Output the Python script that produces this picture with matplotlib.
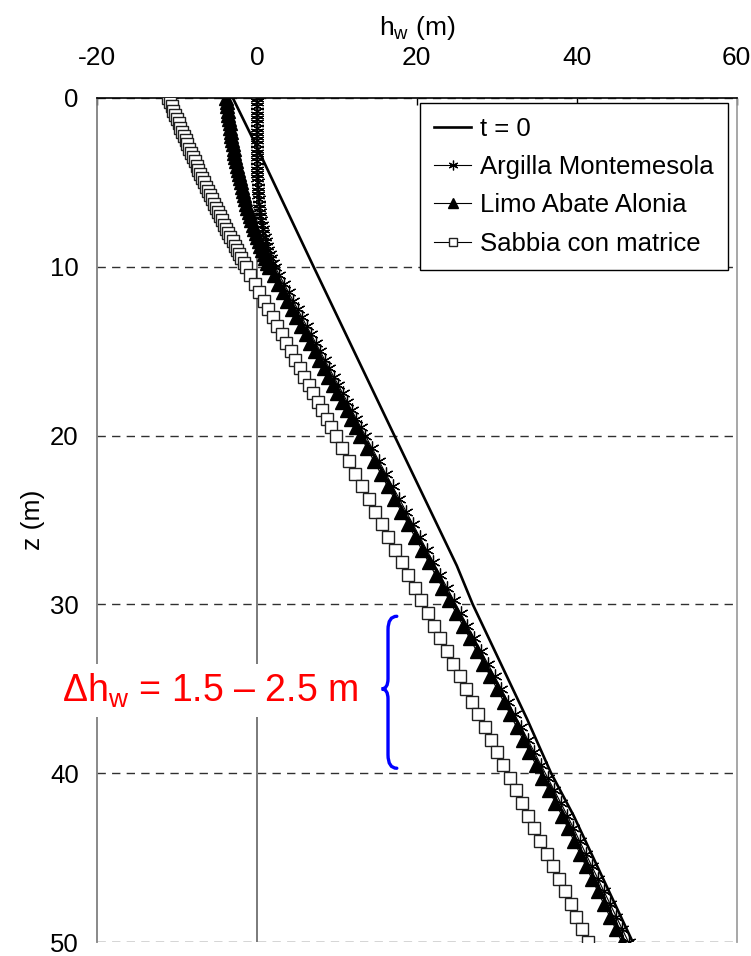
import matplotlib
matplotlib.use("Agg")
import matplotlib.pyplot as plt
from matplotlib.path import Path
from matplotlib.patches import PathPatch

plt.rcParams['font.family'] = ['Liberation Sans', 'DejaVu Sans']
plt.rcParams['mathtext.fontset'] = 'custom'
plt.rcParams['mathtext.rm'] = 'Liberation Sans'
plt.rcParams['mathtext.it'] = 'Liberation Sans:italic'
plt.rcParams['axes.unicode_minus'] = False

# profondita' dei nodi (m)
z_nodes = [0, 0.25, 0.5, 0.75, 1, 1.25, 1.5, 1.75, 2, 2.25, 2.5, 2.75, 3, 3.25,
           3.5, 3.75, 4, 4.25, 4.5, 4.75, 5, 5.25, 5.5, 5.75, 6, 6.25, 6.5, 6.75,
           7, 7.25, 7.5, 7.75, 8, 8.25, 8.5, 8.75, 9, 9.25, 9.5, 9.75, 10,
           10.5, 11, 11.5, 12, 12.5, 13, 13.5, 14, 14.5, 15, 15.5, 16, 16.5, 17,
           17.5, 18, 18.5, 19, 19.5, 20,
           20.75, 21.5, 22.25, 23, 23.75, 24.5, 25.25, 26, 26.75, 27.5, 28.25, 29,
           29.75, 30.5, 31.25, 32, 32.75, 33.5, 34.25, 35, 35.75, 36.5, 37.25, 38,
           38.75, 39.5, 40.25, 41, 41.75, 42.5, 43.25, 44, 44.75, 45.5, 46.25, 47,
           47.75, 48.5, 49.25, 50]

argilla_hw = [0, 0, 0, 0, 0, 0, 0, 0, 0, 0, 0, 0, 0, 0,
              0.01, 0.02, 0.03, 0.04, 0.05, 0.07, 0.09, 0.11, 0.14, 0.18, 0.22, 0.27,
              0.32, 0.38, 0.45, 0.53, 0.62, 0.72, 0.83, 0.96, 1.1, 1.26, 1.43, 1.62,
              1.82, 2.04, 2.27,
              2.83, 3.4, 3.96, 4.53, 5.09, 5.66, 6.22, 6.79, 7.35, 7.92, 8.48, 9.05,
              9.61, 10.18, 10.74, 11.31, 11.87, 12.44, 13.0, 13.57,
              14.42, 15.27, 16.12, 16.97, 17.82, 18.67, 19.52, 20.37, 21.22, 22.07,
              22.92, 23.77, 24.62, 25.47, 26.32, 27.17, 28.02, 28.87, 29.72, 30.57,
              31.4, 32.22, 33.05, 33.87, 34.7, 35.52, 36.35, 37.17, 38.0, 38.82,
              39.59, 40.35, 41.12, 41.88, 42.65, 43.41, 44.18, 44.94, 45.71, 46.47]

limo_hw = [-3.8, -3.74, -3.68, -3.62, -3.55, -3.48, -3.41, -3.34, -3.26, -3.18,
           -3.09, -3.0, -2.91, -2.81, -2.71, -2.61, -2.5, -2.39, -2.27, -2.15,
           -2.02, -1.89, -1.76, -1.62, -1.48, -1.33, -1.18, -1.02, -0.86, -0.69,
           -0.52, -0.34, -0.16, 0.03, 0.22, 0.42, 0.63, 0.85, 1.07, 1.3, 1.53,
           2.1, 2.67, 3.24, 3.81, 4.38, 4.95, 5.52, 6.09, 6.66, 7.23, 7.8, 8.37,
           8.94, 9.51, 10.08, 10.65, 11.22, 11.79, 12.36, 12.93,
           13.79, 14.64, 15.5, 16.35, 17.21, 18.06, 18.92, 19.77, 20.63, 21.48,
           22.34, 23.2, 24.05, 24.91, 25.76, 26.62, 27.47, 28.33, 29.18, 30.04,
           30.85, 31.66, 32.47, 33.28, 34.09, 34.9, 35.71, 36.52, 37.33, 38.14,
           38.89, 39.64, 40.39, 41.14, 41.89, 42.64, 43.39, 44.14, 44.89, 45.64]

sabbia_hw = [-11.1, -10.88, -10.66, -10.44, -10.22, -10.0, -9.78, -9.56, -9.34, -9.12,
             -8.9, -8.68, -8.45, -8.22, -7.99, -7.76, -7.53, -7.3, -7.07, -6.84,
             -6.6, -6.36, -6.12, -5.88, -5.63, -5.38, -5.13, -4.88, -4.63, -4.37,
             -4.11, -3.85, -3.58, -3.31, -3.04, -2.76, -2.48, -2.2, -1.92, -1.64, -1.36,
             -0.8, -0.24, 0.32, 0.88, 1.44, 2.0, 2.56, 3.12, 3.68, 4.24, 4.8, 5.36,
             5.92, 6.48, 7.04, 7.6, 8.16, 8.72, 9.28, 9.84,
             10.67, 11.5, 12.33, 13.16, 13.99, 14.82, 15.64, 16.46, 17.28, 18.1,
             18.92, 19.74, 20.54, 21.34, 22.14, 22.94, 23.74, 24.54, 25.34, 26.14,
             26.92, 27.7, 28.48, 29.26, 30.04, 30.82, 31.6, 32.38, 33.16, 33.94,
             34.7, 35.46, 36.22, 36.98, 37.74, 38.5, 39.22, 39.94, 40.66, 41.38]

# condizione iniziale t = 0
t0_z = [0, 2.9, 10, 20, 27.7, 30, 36.8, 40, 42.5, 50]
t0_hw = [-3, 0, 7.1, 17.2, 25, 27.0, 33.8, 36.8, 39.6, 47]

fig = plt.figure(figsize=(7.51, 9.56), dpi=100)
ax = fig.add_axes([0.129, 0.0145, 0.852, 0.883])

ax.axvline(0, color='#707070', lw=1.3, zorder=1)

ax.plot(t0_hw, t0_z, color='black', lw=1.9, label='t = 0', zorder=3)
ax.plot(argilla_hw, z_nodes, color='black', lw=0.8, marker=(6, 2, 0), ms=10,
        mew=0.9, label='Argilla Montemesola', zorder=3)
ax.plot(limo_hw, z_nodes, color='black', lw=0.8, marker='^', ms=10,
        mfc='black', mec='black', label='Limo Abate Alonia', zorder=3)
ax.plot(sabbia_hw, z_nodes, color='black', lw=0.8, marker='s', ms=8,
        mfc='white', mec='#202020', mew=1, label='Sabbia con matrice', zorder=3)

ax.set_xlim(-20, 60)
ax.set_ylim(50, 0)
ax.set_xticks([-20, 0, 20, 40, 60])
ax.set_yticks([0, 10, 20, 30, 40, 50])
ax.xaxis.tick_top()
ax.xaxis.set_label_position('top')
ax.tick_params(axis='x', direction='in', length=5, width=1, pad=20, labelsize=19)
ax.tick_params(axis='y', length=0, pad=13, labelsize=18.5)
ax.set_xlabel(r'h$_{\rm w}$ (m)', fontsize=19, labelpad=8)
ax.set_ylabel('z (m)', fontsize=19, labelpad=4)

ax.yaxis.grid(True, linestyle=(0, (6, 4.5)), color='#303030', lw=1)
ax.set_axisbelow(True)

ax.spines['top'].set_color('black')
ax.spines['top'].set_linewidth(1.2)
ax.spines['left'].set_color('#808080')
ax.spines['left'].set_linewidth(1.3)
ax.spines['right'].set_color('#a0a0a0')
ax.spines['right'].set_linewidth(1.3)
ax.spines['bottom'].set_visible(False)

leg = ax.legend(loc='upper left', bbox_to_anchor=(0.505, 0.994), borderaxespad=0,
                fontsize=18.5, frameon=True, fancybox=False, edgecolor='black',
                framealpha=1, handlelength=1.45, handletextpad=0.35,
                labelspacing=0.55, borderpad=0.55, markerscale=0.7)
leg.get_frame().set_linewidth(1)

ax.text(-5.9, 35.1, r'$\Delta$h$_{\rm w}$ = 1.5 – 2.5 m', fontsize=27, color='red',
        ha='center', va='center', zorder=6, clip_on=False,
        bbox=dict(boxstyle='square,pad=0.2', fc='white', ec='none'))

# graffa blu
brace = Path([(17.5, 30.7), (16.4, 30.7), (16.4, 31.5),
              (16.4, 34.4),
              (16.4, 35.0), (15.6, 35.0),
              (16.4, 35.0), (16.4, 35.6),
              (16.4, 38.9),
              (16.4, 39.7), (17.5, 39.7)],
             [Path.MOVETO, Path.CURVE3, Path.CURVE3,
              Path.LINETO,
              Path.CURVE3, Path.CURVE3,
              Path.CURVE3, Path.CURVE3,
              Path.LINETO,
              Path.CURVE3, Path.CURVE3])
ax.add_patch(PathPatch(brace, fc='none', ec='#0000ff', lw=2.4, zorder=6,
                       capstyle='round'))

fig.savefig('out.png', dpi=100)
